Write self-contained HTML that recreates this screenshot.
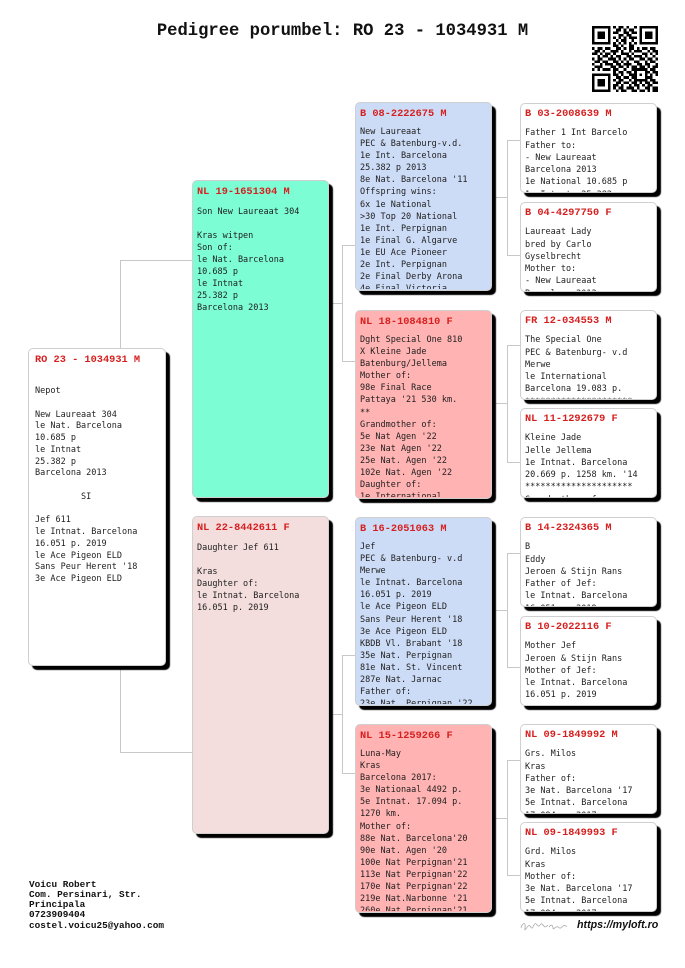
<!DOCTYPE html>
<html><head><meta charset="utf-8"><style>
html,body{margin:0;padding:0;}
body{width:685px;height:968px;position:relative;overflow:hidden;background:#fff;}
.ln{position:absolute;background:#c8c8c8;}
.box{position:absolute;box-sizing:border-box;border:1px solid #cfcfcf;border-radius:5px;box-shadow:4px 4px 1px #000;overflow:hidden;z-index:2;}
.h{position:absolute;left:4px;font:bold 10.3px/12px "Liberation Mono",monospace;color:#d61f1f;white-space:pre;}
.b{position:absolute;left:4px;right:0;font:8.5px "DejaVu Sans Mono",monospace;color:#1e1e1e;white-space:pre;overflow:hidden;}
.r{left:28px;top:348px;width:138px;height:318px;background:#fff;}
.r .h{left:6px;top:5px;}
.r .b{left:6px;top:37px;line-height:11.75px;}
.g1{left:192px;width:137px;height:318px;}
.g1 .h{top:5px;}
.g1 .b{top:24.5px;line-height:12px;}
.g2{left:355px;width:137px;height:189px;}
.g2 .h{top:4.5px;}
.g2 .b{top:23px;line-height:12.1px;height:163px;}
.g3{left:520px;width:137px;height:90px;background:#fff;}
.g3 .h{top:4px;}
.g3 .b{top:23.3px;line-height:12.3px;height:64.5px;}
.m{background:#cddcf6;}
.f{background:#ffb3b3;}
.title{position:absolute;left:0;width:685px;top:22px;text-align:center;font:bold 17.2px/20px "Liberation Mono",monospace;color:#111;white-space:pre;}
.foot{position:absolute;left:29px;top:879.5px;font:bold 9.4px/10.3px "Liberation Mono",monospace;color:#111;white-space:pre;}
.url{position:absolute;left:577px;top:917.5px;font:italic bold 10.7px/14px "Liberation Sans",sans-serif;color:#111;white-space:pre;}
</style></head><body>

<div class="title">Pedigree porumbel: RO 23 - 1034931 M</div>

<svg style="position:absolute;left:592px;top:26px" width="66" height="66" viewBox="0 0 25 25" shape-rendering="crispEdges"><path fill="#000" d="M0 0h7v1h-7zM8 0h1v1h-1zM10 0h2v1h-2zM13 0h1v1h-1zM16 0h1v1h-1zM18 0h7v1h-7z
M0 1h1v1h-1zM6 1h1v1h-1zM9 1h2v1h-2zM12 1h1v1h-1zM14 1h2v1h-2zM18 1h1v1h-1zM24 1h1v1h-1z
M0 2h1v1h-1zM2 2h3v1h-3zM6 2h1v1h-1zM8 2h2v1h-2zM12 2h2v1h-2zM15 2h2v1h-2zM18 2h1v1h-1zM20 2h3v1h-3zM24 2h1v1h-1z
M0 3h1v1h-1zM2 3h3v1h-3zM6 3h1v1h-1zM10 3h2v1h-2zM13 3h2v1h-2zM18 3h1v1h-1zM20 3h3v1h-3zM24 3h1v1h-1z
M0 4h1v1h-1zM2 4h3v1h-3zM6 4h1v1h-1zM8 4h1v1h-1zM10 4h1v1h-1zM12 4h1v1h-1zM14 4h3v1h-3zM18 4h1v1h-1zM20 4h3v1h-3zM24 4h1v1h-1z
M0 5h1v1h-1zM6 5h1v1h-1zM9 5h1v1h-1zM11 5h2v1h-2zM15 5h1v1h-1zM18 5h1v1h-1zM24 5h1v1h-1z
M0 6h7v1h-7zM8 6h1v1h-1zM10 6h1v1h-1zM12 6h1v1h-1zM14 6h1v1h-1zM16 6h1v1h-1zM18 6h7v1h-7z
M8 7h2v1h-2zM11 7h1v1h-1zM14 7h2v1h-2z
M0 8h1v1h-1zM2 8h2v1h-2zM5 8h2v1h-2zM9 8h2v1h-2zM12 8h1v1h-1zM14 8h2v1h-2zM17 8h1v1h-1zM19 8h2v1h-2zM22 8h2v1h-2z
M1 9h2v1h-2zM4 9h1v1h-1zM7 9h3v1h-3zM11 9h1v1h-1zM14 9h1v1h-1zM16 9h3v1h-3zM21 9h1v1h-1zM23 9h2v1h-2z
M0 10h2v1h-2zM3 10h1v1h-1zM5 10h2v1h-2zM8 10h1v1h-1zM11 10h3v1h-3zM15 10h1v1h-1zM19 10h2v1h-2zM22 10h1v1h-1zM24 10h1v1h-1z
M2 11h1v1h-1zM4 11h2v1h-2zM7 11h1v1h-1zM9 11h2v1h-2zM13 11h2v1h-2zM16 11h3v1h-3zM20 11h1v1h-1zM23 11h1v1h-1z
M0 12h1v1h-1zM2 12h2v1h-2zM6 12h3v1h-3zM10 12h1v1h-1zM12 12h1v1h-1zM14 12h2v1h-2zM18 12h2v1h-2zM21 12h2v1h-2zM24 12h1v1h-1z
M1 13h2v1h-2zM4 13h2v1h-2zM8 13h2v1h-2zM11 13h1v1h-1zM13 13h1v1h-1zM16 13h2v1h-2zM20 13h1v1h-1zM22 13h2v1h-2z
M0 14h1v1h-1zM3 14h1v1h-1zM5 14h3v1h-3zM9 14h2v1h-2zM12 14h3v1h-3zM17 14h2v1h-2zM20 14h2v1h-2zM24 14h1v1h-1z
M1 15h3v1h-3zM7 15h2v1h-2zM10 15h2v1h-2zM13 15h1v1h-1zM15 15h2v1h-2zM18 15h2v1h-2zM21 15h1v1h-1zM23 15h2v1h-2z
M0 16h1v1h-1zM2 16h1v1h-1zM4 16h3v1h-3zM8 16h2v1h-2zM12 16h1v1h-1zM15 16h6v1h-6zM22 16h2v1h-2z
M8 17h1v1h-1zM10 17h2v1h-2zM13 17h2v1h-2zM16 17h1v1h-1zM20 17h2v1h-2zM23 17h2v1h-2z
M0 18h7v1h-7zM8 18h2v1h-2zM11 18h1v1h-1zM14 18h3v1h-3zM18 18h1v1h-1zM20 18h1v1h-1zM22 18h1v1h-1zM24 18h1v1h-1z
M0 19h1v1h-1zM6 19h1v1h-1zM9 19h2v1h-2zM12 19h2v1h-2zM15 19h2v1h-2zM20 19h3v1h-3z
M0 20h1v1h-1zM2 20h3v1h-3zM6 20h1v1h-1zM8 20h1v1h-1zM10 20h2v1h-2zM14 20h1v1h-1zM16 20h5v1h-5zM22 20h2v1h-2z
M0 21h1v1h-1zM2 21h3v1h-3zM6 21h1v1h-1zM9 21h2v1h-2zM12 21h2v1h-2zM15 21h2v1h-2zM18 21h1v1h-1zM20 21h2v1h-2zM23 21h2v1h-2z
M0 22h1v1h-1zM2 22h3v1h-3zM6 22h1v1h-1zM8 22h2v1h-2zM11 22h1v1h-1zM14 22h1v1h-1zM16 22h2v1h-2zM19 22h1v1h-1zM21 22h2v1h-2z
M0 23h1v1h-1zM6 23h1v1h-1zM8 23h1v1h-1zM10 23h2v1h-2zM13 23h3v1h-3zM17 23h1v1h-1zM20 23h2v1h-2zM23 23h2v1h-2z
M0 24h7v1h-7zM9 24h1v1h-1zM11 24h2v1h-2zM15 24h2v1h-2zM18 24h2v1h-2zM21 24h1v1h-1zM23 24h2v1h-2z"/></svg>

<!-- connectors -->
<div class="ln" style="left:120px;top:260px;width:1px;height:493px"></div>
<div class="ln" style="left:120px;top:260px;width:72px;height:1px"></div>
<div class="ln" style="left:120px;top:752px;width:72px;height:1px"></div>

<div class="ln" style="left:329px;top:303px;width:13px;height:1px"></div>
<div class="ln" style="left:342px;top:245px;width:1px;height:117px"></div>
<div class="ln" style="left:342px;top:245px;width:13px;height:1px"></div>
<div class="ln" style="left:342px;top:361px;width:13px;height:1px"></div>

<div class="ln" style="left:329px;top:714px;width:13px;height:1px"></div>
<div class="ln" style="left:342px;top:655px;width:1px;height:119px"></div>
<div class="ln" style="left:342px;top:655px;width:13px;height:1px"></div>
<div class="ln" style="left:342px;top:773px;width:13px;height:1px"></div>

<div class="ln" style="left:492px;top:197px;width:15px;height:1px"></div>
<div class="ln" style="left:507px;top:140px;width:1px;height:116px"></div>
<div class="ln" style="left:507px;top:140px;width:13px;height:1px"></div>
<div class="ln" style="left:507px;top:255px;width:13px;height:1px"></div>

<div class="ln" style="left:492px;top:403px;width:15px;height:1px"></div>
<div class="ln" style="left:507px;top:345px;width:1px;height:118px"></div>
<div class="ln" style="left:507px;top:345px;width:13px;height:1px"></div>
<div class="ln" style="left:507px;top:462px;width:13px;height:1px"></div>

<div class="ln" style="left:492px;top:610px;width:15px;height:1px"></div>
<div class="ln" style="left:507px;top:553px;width:1px;height:115px"></div>
<div class="ln" style="left:507px;top:553px;width:13px;height:1px"></div>
<div class="ln" style="left:507px;top:667px;width:13px;height:1px"></div>

<div class="ln" style="left:492px;top:818px;width:15px;height:1px"></div>
<div class="ln" style="left:507px;top:760px;width:1px;height:116px"></div>
<div class="ln" style="left:507px;top:760px;width:13px;height:1px"></div>
<div class="ln" style="left:507px;top:875px;width:13px;height:1px"></div>

<!-- root -->
<div class="box r"><div class="h">RO 23 - 1034931 M</div><div class="b">Nepot

New Laureaat 304
le Nat. Barcelona
10.685 p
le Intnat
25.382 p
Barcelona 2013

         SI

Jef 611
le Intnat. Barcelona
16.051 p. 2019
le Ace Pigeon ELD
Sans Peur Herent '18
3e Ace Pigeon ELD</div></div>

<!-- gen1 -->
<div class="box g1" style="top:180px;background:#7dfdd3"><div class="h">NL 19-1651304 M</div><div class="b">Son New Laureaat 304

Kras witpen
Son of:
le Nat. Barcelona
10.685 p
le Intnat
25.382 p
Barcelona 2013</div></div>

<div class="box g1" style="top:516px;background:#f3dedd"><div class="h">NL 22-8442611 F</div><div class="b">Daughter Jef 611

Kras
Daughter of:
le Intnat. Barcelona
16.051 p. 2019</div></div>

<!-- gen2 -->
<div class="box g2 m" style="top:102px"><div class="h">B 08-2222675 M</div><div class="b">New Laureaat
PEC &amp; Batenburg-v.d.
1e Int. Barcelona
25.382 p 2013
8e Nat. Barcelona '11
Offspring wins:
6x 1e National
&gt;30 Top 20 National
1e Int. Perpignan
1e Final G. Algarve
1e EU Ace Pioneer
2e Int. Perpignan
2e Final Derby Arona
4e Final Victoria</div></div>

<div class="box g2 f" style="top:310px"><div class="h">NL 18-1084810 F</div><div class="b">Dght Special One 810
X Kleine Jade
Batenburg/Jellema
Mother of:
98e Final Race
Pattaya '21 530 km.
**
Grandmother of:
5e Nat Agen '22
23e Nat Agen '22
25e Nat. Agen '22
102e Nat. Agen '22
Daughter of:
1e International</div></div>

<div class="box g2 m" style="top:517px"><div class="h">B 16-2051063 M</div><div class="b">Jef
PEC &amp; Batenburg- v.d
Merwe
le Intnat. Barcelona
16.051 p. 2019
le Ace Pigeon ELD
Sans Peur Herent '18
3e Ace Pigeon ELD
KBDB Vl. Brabant '18
35e Nat. Perpignan
81e Nat. St. Vincent
287e Nat. Jarnac
Father of:
23e Nat. Perpignan '22</div></div>

<div class="box g2 f" style="top:724px"><div class="h">NL 15-1259266 F</div><div class="b">Luna-May
Kras
Barcelona 2017:
3e Nationaal 4492 p.
5e Intnat. 17.094 p.
1270 km.
Mother of:
88e Nat. Barcelona'20
90e Nat. Agen '20
100e Nat Perpignan'21
113e Nat Perpignan'22
170e Nat Perpignan'22
219e Nat.Narbonne '21
260e Nat Perpignan'21</div></div>

<!-- gen3 -->
<div class="box g3" style="top:103px"><div class="h">B 03-2008639 M</div><div class="b">Father 1 Int Barcelo
Father to:
- New Laureaat
Barcelona 2013
1e National 10.685 p
1e Intnat. 25.382 p</div></div>

<div class="box g3" style="top:202px"><div class="h">B 04-4297750 F</div><div class="b">Laureaat Lady
bred by Carlo
Gyselbrecht
Mother to:
- New Laureaat
Barcelona 2013</div></div>

<div class="box g3" style="top:310px"><div class="h">FR 12-034553 M</div><div class="b">The Special One
PEC &amp; Batenburg- v.d
Merwe
le International
Barcelona 19.083 p.
*********************</div></div>

<div class="box g3" style="top:408px"><div class="h">NL 11-1292679 F</div><div class="b">Kleine Jade
Jelle Jellema
1e Intnat. Barcelona
20.669 p. 1258 km. '14
*********************
Grandmother of:</div></div>

<div class="box g3" style="top:517px"><div class="h">B 14-2324365 M</div><div class="b">B
Eddy
Jeroen &amp; Stijn Rans
Father of Jef:
le Intnat. Barcelona
16.051 p. 2019</div></div>

<div class="box g3" style="top:616px"><div class="h">B 10-2022116 F</div><div class="b">Mother Jef
Jeroen &amp; Stijn Rans
Mother of Jef:
le Intnat. Barcelona
16.051 p. 2019</div></div>

<div class="box g3" style="top:724px"><div class="h">NL 09-1849992 M</div><div class="b">Grs. Milos
Kras
Father of:
3e Nat. Barcelona '17
5e Intnat. Barcelona
17.094 p. 2017</div></div>

<div class="box g3" style="top:822px"><div class="h">NL 09-1849993 F</div><div class="b">Grd. Milos
Kras
Mother of:
3e Nat. Barcelona '17
5e Intnat. Barcelona
17.094 p. 2017</div></div>

<!-- footer -->
<div class="foot">Voicu Robert
Com. Persinari, Str.
Principala
0723909404
costel.voicu25@yahoo.com</div>

<svg style="position:absolute;left:519px;top:919px" width="50" height="14" viewBox="0 0 50 14"><path d="M2 9c2-6 5-6 4 0s3-5 5-2 2 3 4-1 3 2 5 1 2-4 4-1 3 2 5 0M30 8c2-3 4-2 4 1s3-3 5-1 3 1 5-1 2 1 4 0" fill="none" stroke="#aaa" stroke-width="0.8"/></svg>
<div class="url">https://myloft.ro</div>

</body></html>
